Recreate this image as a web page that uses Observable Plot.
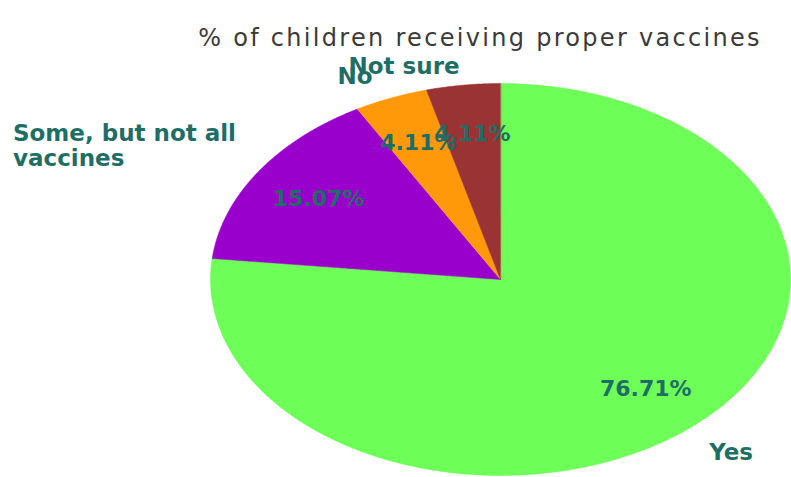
<!DOCTYPE html>
<html>
<head>
<meta charset="utf-8">
<script src="https://cdn.jsdelivr.net/npm/d3@7"></script>
<script src="https://cdn.jsdelivr.net/npm/@observablehq/plot@0.6"></script>
<style>
  html, body { margin: 0; padding: 0; background: #fff; }
  #wrap { position: relative; width: 791px; height: 477px; overflow: hidden; }
  #title { position: absolute; left: 0; top: 25px; width: 960px; text-align: center; line-height: 1.1;
    font-family: "DejaVu Sans", sans-serif; font-size: 24px; letter-spacing: 2.3px; color: #3a3a3a; }
</style>
</head>
<body>
<div id="wrap"><div id="title">% of children receiving proper vaccines</div></div>
<script>
const title = "% of children receiving proper vaccines";
const categories = ["Yes", "Some, but not all vaccines", "No", "Not sure"];
const displayLabels = ["Yes", "Some, but not all\nvaccines", "No", "Not sure"];
const values = [76.71, 15.07, 4.11, 4.11];
const pctLabels = ["76.71%", "15.07%", "4.11%", "4.11%"];
const colors = ["#6dff57", "#9a00cc", "#ff990a", "#9a3333"];

const total = d3.sum(values);
let acc = 0;
const slices = categories.map((c, i) => {
  const a0 = acc / total * 2 * Math.PI;
  acc += values[i];
  const a1 = acc / total * 2 * Math.PI;
  return {cat: c, label: displayLabels[i], pct: pctLabels[i], a0, a1, mid: (a0 + a1) / 2};
});

// polygon points for each slice (clockwise from top)
const pts = [];
for (const s of slices) {
  pts.push({cat: s.cat, x: 0, y: 0});
  const n = Math.max(2, Math.ceil((s.a1 - s.a0) / 0.005));
  for (let k = 0; k <= n; k++) {
    const a = s.a0 + (s.a1 - s.a0) * k / n;
    pts.push({cat: s.cat, x: Math.sin(a), y: Math.cos(a)});
  }
}

const pctPos = slices.map(s => ({text: s.pct, cat: s.cat, x: 0.75 * Math.sin(s.mid), y: 0.75 * Math.cos(s.mid)}));
const catPos = slices.map(s => ({text: s.label, cat: s.cat, x: 1.19 * Math.sin(s.mid), y: 1.19 * Math.cos(s.mid)}));

const labelColor = "#1f6e66";
const font = "DejaVu Sans, sans-serif";

const chart = Plot.plot({
  width: 791,
  height: 477,
  margin: 0,
  x: {domain: [-1, 1], range: [210, 790], axis: null},
  y: {domain: [-1, 1], range: [475, 83], axis: null},
  color: {type: "ordinal", domain: categories, range: colors},
  marks: [
    Plot.line(pts, {x: "x", y: "y", z: "cat", fill: "cat", stroke: "cat", strokeWidth: 0.5, curve: "linear-closed"}),
    Plot.text(pctPos, {x: "x", y: "y", text: "text", fill: labelColor, fontSize: 22, fontWeight: "bold", fontFamily: font}),
    Plot.text(catPos.filter(d => d.cat === "Yes"), {x: "x", y: "y", text: "text", fill: labelColor, fontSize: 23, fontWeight: "bold", fontFamily: font}),
    Plot.text(catPos.filter(d => d.cat === "Some, but not all vaccines"), {x: "x", y: "y", text: "text", fill: labelColor, fontSize: 23, fontWeight: "bold", fontFamily: font, textAnchor: "start", dx: -199, dy: -6, lineHeight: 1.1}),
    Plot.text(catPos.filter(d => d.cat === "No"), {x: "x", y: "y", text: "text", fill: labelColor, fontSize: 23, fontWeight: "bold", fontFamily: font, dx: -15, dy: 13}),
    Plot.text(catPos.filter(d => d.cat === "Not sure"), {x: "x", y: "y", text: "text", fill: labelColor, fontSize: 23, fontWeight: "bold", fontFamily: font, dx: -52, dy: 18})
  ]
});
chart.style.position = "absolute";
chart.style.left = "0";
chart.style.top = "0";
document.getElementById("wrap").insertBefore(chart, document.getElementById("title"));
</script>
</body>
</html>
